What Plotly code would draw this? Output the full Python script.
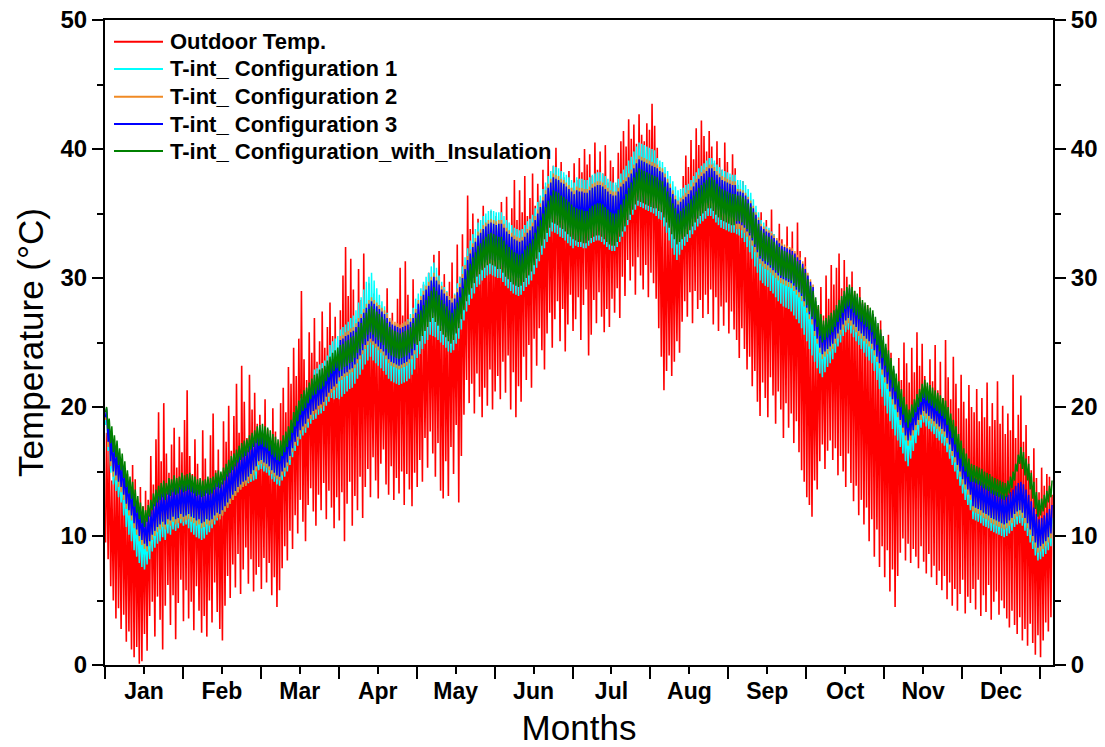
import plotly.graph_objects as go

# ---------------------------------------------------------------------------
# Daily temperature extremes over one year (°C), grouped by month.
# Each day is drawn as a night-time low followed by an afternoon high.
# ---------------------------------------------------------------------------
MONTHS = ["Jan", "Feb", "Mar", "Apr", "May", "Jun",
          "Jul", "Aug", "Sep", "Oct", "Nov", "Dec"]

outdoor_max = [
    [18.0, 17.2, 14.3, 15.8, 16.9, 14.6, 15.9, 13.2, 14.8, 12.4, 15.5, 14.4, 11.6, 13.8, 12.3, 13.5, 12.8, 16.2, 14.0, 17.5, 19.6, 15.8, 20.3, 16.4, 14.9, 17.1, 18.4, 15.3, 17.7, 16.5, 19.0],
    [21.3, 16.2, 14.8, 17.5, 15.6, 13.9, 18.2, 16.0, 14.4, 17.8, 19.5, 15.1, 16.7, 14.2, 18.9, 17.3, 20.1, 16.6, 19.3, 21.8, 18.0, 23.2, 20.4, 17.6, 22.5, 19.8, 21.1, 18.7],
    [19.4, 17.8, 20.6, 18.3, 16.9, 19.9, 18.1, 17.2, 20.3, 21.5, 19.6, 23.1, 21.8, 24.6, 22.4, 25.3, 29.0, 23.7, 22.1, 25.8, 24.2, 26.9, 23.5, 25.1, 27.4, 24.6, 26.2, 28.1, 25.5, 27.0, 24.3],
    [27.5, 30.2, 32.4, 28.6, 31.5, 29.1, 26.8, 30.7, 28.3, 31.9, 27.4, 29.6, 26.1, 28.8, 25.4, 27.9, 24.6, 26.7, 29.2, 25.8, 27.3, 24.9, 28.4, 30.8, 27.1, 31.3, 28.7, 26.4, 29.9, 27.6],
    [28.1, 26.3, 29.5, 27.2, 30.4, 28.6, 31.8, 29.0, 32.1, 27.5, 30.3, 26.9, 29.7, 31.2, 28.4, 32.6, 30.1, 33.4, 31.0, 36.4, 33.8, 35.0, 32.7, 34.6, 33.1, 35.6, 34.2, 32.9, 35.2, 33.6, 34.8],
    [33.7, 35.9, 34.1, 36.3, 33.2, 35.4, 37.6, 34.5, 36.8, 35.1, 37.9, 34.8, 36.2, 38.1, 35.6, 37.3, 36.0, 38.4, 37.1, 39.2, 36.9, 38.7, 40.1, 37.5, 39.0, 37.8, 36.4, 38.3, 37.0, 38.9],
    [37.6, 39.3, 38.2, 40.0, 38.8, 39.6, 37.9, 40.5, 38.4, 39.8, 38.1, 40.3, 37.4, 39.1, 38.6, 37.2, 39.7, 40.6, 41.4, 40.2, 42.3, 40.8, 41.9, 40.4, 42.7, 41.1, 40.6, 42.0, 41.5, 43.5, 41.8],
    [40.1, 38.2, 36.5, 35.2, 36.1, 35.0, 36.6, 35.4, 34.8, 36.3, 37.9, 39.5, 38.6, 40.7, 39.2, 41.6, 40.3, 42.2, 41.0, 39.8, 41.4, 40.2, 38.9, 40.6, 39.3, 38.4, 40.5, 39.0, 37.8, 39.6, 38.5],
    [37.2, 36.0, 37.5, 35.8, 34.6, 35.3, 33.8, 34.9, 33.2, 35.1, 33.9, 34.5, 32.8, 35.3, 33.4, 32.6, 34.2, 33.0, 31.9, 34.0, 32.3, 33.6, 31.5, 34.3, 32.1, 30.4, 31.6, 28.9, 27.5, 26.6],
    [25.4, 27.8, 29.3, 27.1, 30.2, 28.4, 31.0, 29.5, 30.8, 31.9, 29.2, 31.4, 30.1, 28.7, 30.5, 29.0, 27.6, 29.3, 28.1, 26.4, 27.9, 25.8, 27.2, 26.0, 24.5, 26.7, 25.1, 23.9, 25.6, 24.2, 22.8],
    [21.5, 23.8, 22.1, 25.0, 23.4, 21.9, 24.6, 22.7, 25.8, 23.2, 24.9, 22.4, 21.6, 23.7, 22.0, 24.8, 21.3, 23.5, 20.7, 25.2, 22.3, 20.6, 23.9, 21.8, 19.9, 22.5, 20.4, 19.1, 21.7, 20.0],
    [19.6, 21.4, 18.9, 20.7, 19.2, 21.9, 18.5, 20.3, 19.0, 22.0, 18.7, 20.1, 17.9, 19.5, 18.2, 22.5, 17.6, 19.4, 20.9, 17.3, 18.6, 16.2, 15.1, 16.8, 14.5, 13.4, 15.3, 13.9, 14.8, 14.6, 13.2],
]
outdoor_min = [
    [9.5, 8.2, 6.1, 5.0, 3.6, 4.4, 2.8, 3.9, 1.8, 2.6, 1.2, 0.6, 1.4, 0.1, 0.3, 2.4, 1.1, 3.8, 4.9, 2.2, 5.3, 3.5, 1.2, 4.6, 6.2, 3.1, 5.4, 2.0, 4.8, 6.6, 3.4],
    [5.8, 3.6, 4.9, 2.7, 6.1, 4.2, 2.5, 3.8, 2.2, 5.0, 3.3, 6.4, 4.1, 2.8, 1.9, 4.6, 6.9, 5.2, 7.8, 6.0, 8.6, 5.5, 7.4, 9.1, 6.3, 8.2, 5.7, 7.0],
    [7.6, 5.9, 8.3, 6.4, 7.9, 5.4, 6.8, 4.5, 5.8, 7.5, 9.2, 8.1, 10.4, 9.0, 11.6, 10.2, 12.8, 11.1, 9.6, 12.4, 13.7, 11.9, 10.8, 13.2, 12.0, 14.1, 11.3, 13.5, 12.2, 10.6, 13.0],
    [11.2, 13.4, 9.6, 12.5, 14.2, 10.8, 13.1, 12.0, 14.6, 11.4, 13.8, 15.2, 13.0, 16.1, 14.3, 12.9, 15.6, 16.7, 14.0, 13.2, 15.4, 12.8, 14.5, 13.3, 15.0, 12.4, 14.8, 13.6, 12.3, 14.9],
    [13.8, 15.9, 14.2, 17.6, 15.3, 18.1, 16.4, 14.6, 17.2, 13.5, 12.9, 15.8, 13.1, 16.9, 14.8, 18.6, 12.6, 16.2, 19.4, 22.1, 20.3, 21.8, 19.5, 22.6, 20.8, 19.2, 21.5, 20.1, 22.9, 19.8, 21.2],
    [22.4, 20.6, 23.5, 21.1, 24.0, 19.8, 22.7, 19.2, 21.6, 20.4, 23.9, 22.1, 24.8, 21.5, 25.3, 23.2, 26.1, 24.4, 22.9, 25.7, 27.3, 24.6, 26.8, 28.2, 25.1, 27.6, 24.3, 26.4, 28.7, 25.9],
    [26.8, 28.5, 25.2, 27.9, 29.1, 24.0, 25.6, 28.3, 26.5, 28.9, 27.0, 25.8, 27.6, 26.2, 28.4, 27.3, 29.2, 26.9, 30.1, 28.6, 31.4, 29.8, 30.9, 28.7, 31.6, 30.2, 29.1, 31.0, 28.5, 30.4, 29.6],
    [28.4, 26.1, 23.9, 21.3, 22.8, 24.0, 22.4, 23.5, 25.1, 24.2, 26.6, 28.2, 27.0, 28.9, 26.5, 29.0, 27.6, 28.3, 26.9, 28.7, 27.2, 29.1, 26.4, 28.5, 25.9, 27.8, 26.3, 28.1, 25.7, 27.4, 26.0],
    [25.2, 23.8, 26.1, 24.5, 22.9, 23.9, 21.6, 22.8, 20.4, 19.3, 21.9, 20.7, 19.2, 22.3, 20.9, 18.7, 21.2, 19.8, 17.6, 20.3, 18.4, 19.5, 17.2, 18.9, 16.5, 15.1, 14.2, 13.0, 12.4, 11.5],
    [14.3, 13.6, 15.8, 17.1, 15.2, 16.6, 17.4, 15.9, 16.8, 14.7, 16.2, 15.0, 13.8, 16.4, 14.1, 12.7, 13.9, 11.6, 12.8, 10.9, 12.2, 9.6, 11.3, 8.4, 10.5, 7.6, 9.2, 6.8, 8.9, 5.7, 7.4],
    [4.5, 6.9, 8.7, 9.8, 8.1, 9.4, 7.9, 9.0, 8.4, 7.5, 9.2, 8.0, 7.1, 8.6, 6.8, 7.7, 6.2, 7.3, 5.8, 6.9, 5.1, 6.4, 4.6, 5.9, 4.2, 5.5, 6.6, 4.0, 5.3, 4.8],
    [5.9, 4.3, 6.6, 3.8, 5.4, 4.1, 6.2, 3.5, 4.9, 5.7, 3.9, 5.0, 4.4, 3.6, 2.9, 4.2, 3.1, 2.4, 3.7, 1.9, 2.8, 1.5, 3.2, 1.7, 0.8, 2.3, 0.6, 1.9, 3.3, 2.6, 3.7],
]

# Configuration 1
config1_max = [
    [19.6, 17.9, 16.5, 15.8, 15.4, 14.8, 14.4, 13.8, 13.1, 12.6, 12.2, 11.6, 11.1, 10.6, 10.3, 10.0, 10.4, 10.8, 11.3, 11.6, 11.9, 12.1, 12.3, 12.1, 12.5, 12.4, 12.7, 12.5, 12.6, 12.9, 12.7],
    [12.8, 12.9, 12.7, 12.6, 12.4, 12.5, 12.3, 12.4, 12.6, 12.5, 12.6, 12.9, 13.1, 13.0, 13.3, 13.6, 13.9, 14.2, 14.4, 14.7, 15.0, 15.2, 15.4, 15.5, 15.8, 16.0, 16.2, 16.5],
    [17.1, 17.2, 17.0, 16.9, 16.7, 16.4, 16.2, 16.6, 16.5, 16.9, 17.2, 17.6, 18.1, 18.7, 19.8, 20.2, 20.7, 21.0, 21.2, 21.6, 21.9, 22.9, 23.0, 23.3, 23.4, 23.6, 24.0, 24.8, 25.1, 25.3, 25.5],
    [26.0, 26.2, 26.4, 26.6, 26.9, 27.1, 27.5, 28.1, 28.5, 29.1, 29.7, 30.1, 30.4, 29.8, 29.2, 28.7, 28.2, 27.8, 27.3, 26.9, 26.5, 26.4, 26.3, 26.2, 26.4, 26.6, 26.8, 27.2, 27.7, 28.4],
    [28.8, 29.2, 29.7, 30.1, 30.4, 30.9, 31.2, 30.8, 30.2, 29.7, 29.3, 29.0, 28.6, 28.4, 28.8, 29.6, 30.1, 30.9, 31.6, 32.3, 32.9, 33.4, 33.8, 34.3, 34.5, 34.8, 35.0, 35.2, 35.3, 35.2, 35.1],
    [35.1, 35.1, 34.8, 34.5, 34.3, 34.1, 33.9, 33.8, 33.7, 33.8, 34.1, 34.4, 34.6, 34.9, 35.4, 35.9, 36.4, 36.9, 37.4, 37.9, 38.3, 38.7, 38.6, 38.5, 38.3, 38.2, 38.0, 37.8, 37.6, 37.4],
    [37.8, 37.7, 37.7, 37.6, 37.6, 37.8, 38.0, 38.1, 38.2, 38.2, 38.1, 37.9, 37.7, 37.5, 37.4, 37.4, 37.7, 38.1, 38.4, 38.7, 39.1, 39.4, 39.8, 40.2, 40.5, 40.4, 40.3, 40.2, 40.1, 40.0, 39.9],
    [39.3, 39.1, 39.0, 38.6, 38.3, 37.9, 37.5, 37.1, 36.8, 36.9, 37.0, 37.2, 37.3, 37.6, 37.9, 38.2, 38.5, 38.7, 38.9, 39.1, 39.3, 39.3, 39.1, 38.8, 38.6, 38.4, 38.3, 38.2, 38.1, 38.0, 38.0],
    [37.6, 37.6, 37.5, 37.2, 36.9, 36.6, 36.1, 35.6, 35.1, 34.5, 34.3, 34.0, 33.9, 33.6, 33.4, 33.1, 32.8, 32.6, 32.4, 32.2, 32.0, 31.8, 31.6, 31.3, 31.1, 30.8, 30.4, 29.9, 29.4, 29.0],
    [27.5, 26.9, 26.2, 25.7, 25.9, 26.1, 26.3, 26.5, 26.9, 27.3, 27.6, 28.0, 28.3, 28.5, 28.3, 28.0, 27.8, 27.5, 27.3, 27.1, 26.9, 26.7, 26.5, 26.0, 25.5, 25.0, 24.5, 23.9, 23.4, 22.8, 22.2],
    [21.0, 20.4, 19.8, 19.2, 18.6, 18.2, 18.6, 19.0, 19.4, 19.8, 20.2, 20.5, 20.3, 20.1, 19.9, 19.7, 19.5, 19.3, 19.1, 18.9, 18.4, 17.9, 17.4, 16.9, 16.3, 15.8, 15.2, 14.8, 14.4, 14.0],
    [13.5, 13.4, 13.3, 13.2, 13.0, 12.9, 12.8, 12.6, 12.5, 12.4, 12.3, 12.2, 12.1, 12.2, 12.4, 12.6, 12.9, 13.1, 13.2, 13.0, 12.6, 12.2, 11.7, 11.2, 10.7, 10.3, 10.4, 10.6, 10.8, 11.1, 11.4],
]
config1_min = [
    [18.6, 16.6, 14.9, 14.0, 13.5, 13.0, 12.6, 11.6, 10.7, 10.1, 9.6, 8.9, 8.4, 7.9, 7.6, 7.4, 7.8, 8.2, 8.8, 9.1, 9.4, 9.6, 9.9, 9.7, 10.2, 10.1, 10.5, 10.4, 10.6, 11.0, 10.8],
    [10.9, 10.6, 10.3, 10.1, 9.9, 9.8, 9.7, 9.8, 10.1, 10.3, 10.6, 10.9, 11.2, 11.3, 11.6, 11.9, 12.2, 12.5, 12.8, 13.1, 13.4, 13.6, 13.8, 13.9, 14.1, 14.2, 14.3, 14.4],
    [15.1, 15.2, 15.0, 14.9, 14.7, 14.4, 14.2, 14.0, 13.9, 14.3, 14.6, 15.0, 15.5, 16.1, 16.6, 17.0, 17.5, 17.8, 18.0, 18.4, 18.7, 19.0, 19.1, 19.4, 19.5, 19.7, 20.1, 20.4, 20.7, 20.6, 20.7],
    [20.6, 20.8, 21.0, 21.2, 21.4, 21.5, 21.8, 22.2, 22.5, 22.9, 23.3, 23.6, 23.9, 23.6, 23.4, 23.2, 23.0, 22.8, 22.5, 22.2, 22.0, 21.9, 21.8, 21.7, 21.8, 21.9, 22.0, 22.2, 22.5, 22.9],
    [23.8, 24.1, 24.5, 24.9, 25.2, 25.6, 25.5, 25.4, 25.2, 25.0, 24.8, 24.6, 24.3, 24.2, 24.4, 24.9, 25.3, 26.0, 26.7, 27.4, 27.9, 28.4, 28.8, 29.3, 29.5, 29.8, 30.0, 30.2, 30.3, 30.2, 30.1],
    [30.0, 30.0, 29.7, 29.4, 29.2, 29.0, 28.8, 28.7, 28.6, 28.7, 29.0, 29.3, 29.5, 29.8, 30.3, 30.8, 31.3, 31.8, 32.3, 32.8, 33.2, 33.6, 33.5, 33.4, 33.2, 33.1, 32.9, 32.7, 32.5, 32.3],
    [32.5, 32.4, 32.4, 32.3, 32.3, 32.5, 32.7, 32.8, 32.9, 32.9, 32.8, 32.6, 32.4, 32.2, 32.1, 32.1, 32.4, 32.8, 33.2, 33.6, 34.1, 34.5, 34.9, 35.3, 35.6, 35.5, 35.4, 35.3, 35.2, 35.1, 35.0],
    [34.8, 34.6, 34.5, 34.0, 33.5, 32.9, 32.3, 31.8, 31.4, 31.8, 32.2, 32.5, 32.8, 33.1, 33.4, 33.7, 34.0, 34.2, 34.4, 34.6, 34.8, 34.8, 34.6, 34.3, 34.1, 33.9, 33.8, 33.7, 33.6, 33.5, 33.5],
    [33.4, 33.3, 33.1, 32.8, 32.4, 32.0, 31.5, 30.9, 30.4, 29.8, 29.6, 29.4, 29.3, 29.0, 28.8, 28.5, 28.2, 28.0, 27.8, 27.7, 27.6, 27.4, 27.1, 26.8, 26.5, 26.1, 25.6, 25.1, 24.5, 24.0],
    [23.5, 23.0, 22.6, 22.3, 22.7, 23.1, 23.4, 23.7, 24.2, 24.7, 25.0, 25.5, 25.8, 26.0, 25.7, 25.4, 25.1, 24.8, 24.5, 24.2, 23.9, 23.6, 23.4, 22.8, 22.1, 21.4, 20.8, 20.1, 19.5, 18.9, 18.3],
    [17.8, 17.4, 16.9, 16.4, 15.8, 15.4, 16.0, 16.6, 17.2, 17.8, 18.4, 18.8, 18.5, 18.3, 18.1, 17.9, 17.6, 17.4, 17.2, 17.0, 16.5, 16.0, 15.5, 15.0, 14.4, 13.9, 13.3, 12.8, 12.4, 12.0],
    [11.3, 11.2, 11.1, 11.0, 10.8, 10.7, 10.6, 10.4, 10.3, 10.2, 10.1, 10.0, 9.9, 10.0, 10.2, 10.4, 10.7, 10.9, 11.0, 10.8, 10.4, 10.0, 9.5, 9.0, 8.5, 8.1, 8.2, 8.4, 8.6, 8.9, 9.2],
]

# Configuration 2
config2_max = [
    [19.8, 18.3, 17.4, 16.7, 16.3, 15.7, 15.3, 14.7, 14.0, 13.5, 13.1, 12.5, 12.0, 11.5, 11.2, 10.9, 11.3, 11.7, 12.2, 12.5, 12.8, 13.0, 13.2, 13.0, 13.4, 13.3, 13.6, 13.4, 13.5, 13.8, 13.6],
    [13.7, 13.8, 13.6, 13.5, 13.3, 13.4, 13.2, 13.3, 13.5, 13.4, 13.5, 13.8, 14.0, 13.9, 14.2, 14.5, 14.8, 15.1, 15.3, 15.6, 15.9, 16.1, 16.3, 16.4, 16.7, 16.9, 17.1, 17.4],
    [17.9, 18.0, 17.8, 17.7, 17.5, 17.2, 17.0, 16.8, 16.7, 17.1, 17.4, 17.8, 18.3, 18.9, 19.4, 19.8, 20.3, 20.6, 20.8, 21.2, 21.5, 21.8, 21.9, 22.2, 22.3, 22.5, 22.9, 23.2, 23.5, 23.7, 23.9],
    [25.5, 25.6, 25.8, 25.9, 26.1, 26.2, 26.5, 26.9, 27.2, 27.6, 28.0, 28.3, 28.5, 28.3, 28.1, 27.9, 27.7, 27.5, 27.2, 26.9, 26.7, 26.6, 26.5, 26.4, 26.5, 26.6, 26.7, 26.9, 27.2, 27.6],
    [28.3, 28.6, 29.0, 29.4, 29.7, 30.1, 30.4, 30.1, 29.8, 29.4, 29.1, 28.9, 28.6, 28.4, 28.7, 29.2, 29.6, 30.3, 31.0, 31.7, 32.2, 32.7, 33.1, 33.6, 33.8, 34.1, 34.3, 34.5, 34.6, 34.5, 34.4],
    [34.5, 34.5, 34.2, 33.9, 33.7, 33.5, 33.3, 33.2, 33.1, 33.2, 33.5, 33.8, 34.0, 34.3, 34.8, 35.3, 35.8, 36.3, 36.8, 37.3, 37.7, 38.1, 38.0, 37.9, 37.7, 37.6, 37.4, 37.2, 37.0, 36.8],
    [37.1, 37.0, 37.0, 36.9, 36.9, 37.1, 37.3, 37.4, 37.5, 37.5, 37.4, 37.2, 37.0, 36.8, 36.7, 36.7, 37.0, 37.4, 37.6, 37.8, 38.1, 38.4, 38.8, 39.2, 39.5, 39.4, 39.3, 39.2, 39.1, 39.0, 38.9],
    [38.8, 38.6, 38.5, 38.1, 37.7, 37.3, 36.8, 36.4, 36.0, 36.2, 36.4, 36.6, 36.8, 37.1, 37.4, 37.7, 38.0, 38.2, 38.4, 38.6, 38.8, 38.8, 38.6, 38.3, 38.1, 37.9, 37.8, 37.7, 37.6, 37.5, 37.5],
    [36.9, 36.9, 36.8, 36.6, 36.3, 36.0, 35.6, 35.1, 34.7, 34.2, 34.0, 33.8, 33.7, 33.5, 33.3, 33.1, 32.9, 32.7, 32.6, 32.5, 32.4, 32.3, 32.1, 31.8, 31.6, 31.3, 30.9, 30.4, 29.9, 29.5],
    [27.9, 27.3, 26.6, 26.1, 26.3, 26.5, 26.7, 26.9, 27.3, 27.7, 28.0, 28.4, 28.7, 28.9, 28.7, 28.4, 28.2, 27.9, 27.7, 27.5, 27.3, 27.1, 26.9, 26.4, 25.9, 25.4, 24.9, 24.3, 23.8, 23.2, 22.6],
    [21.6, 21.0, 20.4, 19.8, 19.2, 18.8, 19.2, 19.6, 20.0, 20.4, 20.8, 21.1, 20.9, 20.7, 20.5, 20.3, 20.1, 19.9, 19.7, 19.5, 19.0, 18.5, 18.0, 17.5, 16.9, 16.4, 15.8, 15.4, 15.0, 14.6],
    [14.2, 14.1, 14.0, 13.9, 13.7, 13.6, 13.5, 13.3, 13.2, 13.1, 13.0, 12.9, 12.8, 12.9, 13.1, 13.3, 13.6, 13.8, 13.9, 13.7, 13.3, 12.9, 12.4, 11.9, 11.4, 11.0, 11.1, 11.3, 11.5, 11.8, 12.1],
]
config2_min = [
    [19.0, 16.9, 15.4, 14.6, 14.3, 13.8, 13.4, 12.8, 12.1, 11.6, 11.2, 10.6, 10.1, 9.6, 9.3, 9.0, 8.8, 9.2, 9.7, 10.0, 10.3, 10.5, 10.7, 10.5, 10.9, 10.8, 11.1, 10.9, 11.0, 11.3, 11.1],
    [11.2, 11.3, 11.1, 11.0, 10.8, 10.9, 10.6, 10.7, 10.9, 10.8, 10.9, 11.2, 11.4, 11.3, 11.6, 11.9, 12.2, 12.5, 12.8, 13.1, 13.4, 13.6, 13.8, 13.9, 14.2, 14.4, 14.7, 15.0],
    [15.5, 15.6, 15.4, 15.3, 15.1, 14.8, 14.6, 14.4, 14.3, 14.7, 15.0, 15.4, 15.9, 16.5, 17.0, 17.4, 17.9, 18.2, 18.4, 18.8, 19.1, 19.4, 19.5, 19.8, 19.9, 20.1, 20.5, 20.8, 21.1, 21.3, 21.5],
    [22.0, 22.1, 22.3, 22.4, 22.6, 22.7, 23.0, 23.4, 23.7, 24.1, 24.5, 24.8, 25.0, 24.8, 24.6, 24.4, 24.2, 24.0, 23.7, 23.4, 23.2, 23.1, 23.0, 22.9, 23.0, 23.1, 23.2, 23.4, 23.7, 24.1],
    [24.9, 25.2, 25.6, 26.0, 26.3, 26.7, 27.0, 26.7, 26.4, 26.0, 25.7, 25.5, 25.2, 25.0, 25.3, 25.8, 26.2, 26.9, 27.6, 28.3, 28.8, 29.3, 29.7, 30.2, 30.4, 30.7, 30.9, 31.1, 31.2, 31.1, 31.0],
    [31.0, 31.0, 30.7, 30.4, 30.2, 30.0, 29.8, 29.7, 29.6, 29.7, 30.0, 30.3, 30.5, 30.8, 31.3, 31.8, 32.3, 32.8, 33.3, 33.8, 34.2, 34.6, 34.5, 34.4, 34.2, 34.1, 33.9, 33.7, 33.5, 33.3],
    [33.4, 33.3, 33.3, 33.2, 33.2, 33.4, 33.6, 33.7, 33.8, 33.8, 33.7, 33.5, 33.3, 33.1, 33.0, 33.0, 33.3, 33.7, 34.1, 34.5, 35.0, 35.4, 35.8, 36.2, 36.5, 36.4, 36.3, 36.2, 36.1, 36.0, 35.9],
    [35.6, 35.4, 35.3, 34.9, 34.5, 34.1, 33.6, 33.2, 32.8, 33.0, 33.2, 33.4, 33.6, 33.9, 34.2, 34.5, 34.8, 35.0, 35.2, 35.4, 35.6, 35.6, 35.4, 35.1, 34.9, 34.7, 34.6, 34.5, 34.4, 34.3, 34.3],
    [33.8, 33.8, 33.7, 33.5, 33.2, 32.9, 32.5, 32.0, 31.6, 31.1, 30.9, 30.7, 30.6, 30.4, 30.2, 30.0, 29.8, 29.6, 29.5, 29.4, 29.3, 29.2, 29.0, 28.7, 28.5, 28.2, 27.8, 27.3, 26.8, 26.4],
    [25.5, 24.9, 24.2, 23.7, 23.9, 24.1, 24.3, 24.5, 24.9, 25.3, 25.6, 26.0, 26.3, 26.5, 26.3, 26.0, 25.8, 25.5, 25.3, 25.1, 24.9, 24.7, 24.5, 24.0, 23.5, 23.0, 22.5, 21.9, 21.4, 20.8, 20.2],
    [19.8, 19.2, 18.6, 18.0, 17.4, 17.0, 17.4, 17.8, 18.2, 18.6, 19.0, 19.3, 19.1, 18.9, 18.7, 18.5, 18.3, 18.1, 17.9, 17.7, 17.2, 16.7, 16.2, 15.7, 15.1, 14.6, 14.0, 13.6, 13.2, 12.8],
    [11.9, 11.8, 11.7, 11.6, 11.4, 11.3, 11.2, 11.0, 10.9, 10.8, 10.7, 10.6, 10.5, 10.6, 10.8, 11.0, 11.3, 11.5, 11.6, 11.4, 11.0, 10.6, 10.1, 9.6, 9.1, 8.7, 8.8, 9.0, 9.2, 9.5, 9.8],
]

# Configuration 3
config3_max = [
    [19.9, 18.6, 17.7, 17.0, 16.6, 16.0, 15.6, 15.0, 14.3, 13.8, 13.4, 12.8, 12.3, 11.8, 11.5, 11.2, 11.6, 12.0, 12.5, 12.8, 13.1, 13.3, 13.5, 13.3, 13.7, 13.6, 13.9, 13.7, 13.8, 14.1, 13.9],
    [14.0, 14.1, 13.9, 13.8, 13.6, 13.7, 13.5, 13.6, 13.8, 13.7, 13.8, 14.1, 14.3, 14.2, 14.5, 14.8, 15.1, 15.4, 15.6, 15.9, 16.2, 16.4, 16.6, 16.7, 17.0, 17.2, 17.4, 17.7],
    [18.1, 18.2, 18.0, 17.9, 17.7, 17.4, 17.2, 17.0, 16.9, 17.3, 17.6, 18.0, 18.5, 19.1, 19.6, 20.0, 20.5, 20.8, 21.0, 21.4, 21.7, 22.0, 22.1, 22.4, 22.5, 22.7, 23.1, 23.4, 23.7, 23.9, 24.1],
    [25.2, 25.3, 25.5, 25.6, 25.8, 25.9, 26.2, 26.6, 26.9, 27.3, 27.7, 28.0, 28.2, 28.0, 27.8, 27.6, 27.4, 27.2, 26.9, 26.6, 26.4, 26.3, 26.2, 26.1, 26.2, 26.3, 26.4, 26.6, 26.9, 27.3],
    [28.0, 28.3, 28.7, 29.1, 29.4, 29.8, 30.1, 29.8, 29.5, 29.1, 28.8, 28.6, 28.3, 28.1, 28.4, 28.9, 29.3, 30.0, 30.7, 31.4, 31.9, 32.4, 32.8, 33.3, 33.5, 33.8, 34.0, 34.2, 34.3, 34.2, 34.1],
    [34.2, 34.2, 33.9, 33.6, 33.4, 33.2, 33.0, 32.9, 32.8, 32.9, 33.2, 33.5, 33.7, 34.0, 34.5, 35.0, 35.5, 36.0, 36.5, 37.0, 37.4, 37.8, 37.7, 37.6, 37.4, 37.3, 37.1, 36.9, 36.7, 36.5],
    [36.8, 36.7, 36.7, 36.6, 36.6, 36.8, 37.0, 37.1, 37.2, 37.2, 37.1, 36.9, 36.7, 36.5, 36.4, 36.4, 36.7, 37.1, 37.3, 37.5, 37.8, 38.1, 38.5, 38.9, 39.2, 39.1, 39.0, 38.9, 38.8, 38.7, 38.6],
    [38.5, 38.3, 38.2, 37.8, 37.4, 37.0, 36.5, 36.1, 35.7, 35.9, 36.1, 36.3, 36.5, 36.8, 37.1, 37.4, 37.7, 37.9, 38.1, 38.3, 38.5, 38.5, 38.3, 38.0, 37.8, 37.6, 37.5, 37.4, 37.3, 37.2, 37.2],
    [36.7, 36.7, 36.6, 36.4, 36.1, 35.8, 35.4, 34.9, 34.5, 34.0, 33.8, 33.6, 33.5, 33.3, 33.1, 32.9, 32.7, 32.5, 32.4, 32.3, 32.2, 32.1, 31.9, 31.6, 31.4, 31.1, 30.7, 30.2, 29.7, 29.3],
    [28.2, 27.6, 26.9, 26.4, 26.6, 26.8, 27.0, 27.2, 27.6, 28.0, 28.3, 28.7, 29.0, 29.2, 29.0, 28.7, 28.5, 28.2, 28.0, 27.8, 27.6, 27.4, 27.2, 26.7, 26.2, 25.7, 25.2, 24.6, 24.1, 23.5, 22.9],
    [21.9, 21.3, 20.7, 20.1, 19.5, 19.1, 19.5, 19.9, 20.3, 20.7, 21.1, 21.4, 21.2, 21.0, 20.8, 20.6, 20.4, 20.2, 20.0, 19.8, 19.3, 18.8, 18.3, 17.8, 17.2, 16.7, 16.1, 15.7, 15.3, 14.9],
    [14.5, 14.4, 14.3, 14.2, 14.0, 13.9, 13.8, 13.6, 13.5, 13.4, 13.3, 13.2, 13.1, 13.2, 13.4, 13.6, 13.9, 14.1, 14.2, 14.0, 13.6, 13.2, 12.7, 12.2, 11.7, 11.3, 11.4, 11.6, 11.8, 12.1, 12.4],
]
config3_min = [
    [19.2, 17.3, 15.8, 15.0, 14.7, 14.2, 13.8, 13.2, 12.5, 12.0, 11.6, 11.0, 10.5, 10.0, 9.7, 9.4, 9.2, 9.6, 10.1, 10.4, 10.7, 10.9, 11.1, 10.9, 11.3, 11.2, 11.5, 11.3, 11.4, 11.7, 11.5],
    [11.6, 11.7, 11.5, 11.4, 11.2, 11.3, 11.0, 11.1, 11.3, 11.2, 11.3, 11.6, 11.8, 11.7, 12.0, 12.3, 12.6, 12.9, 13.2, 13.5, 13.8, 14.0, 14.2, 14.3, 14.6, 14.8, 15.1, 15.4],
    [15.8, 15.9, 15.7, 15.6, 15.4, 15.1, 14.9, 14.7, 14.6, 15.0, 15.3, 15.7, 16.2, 16.8, 17.3, 17.7, 18.2, 18.5, 18.7, 19.1, 19.4, 19.7, 19.8, 20.1, 20.2, 20.4, 20.8, 21.1, 21.4, 21.6, 21.8],
    [22.3, 22.4, 22.6, 22.7, 22.9, 23.0, 23.3, 23.7, 24.0, 24.4, 24.8, 25.1, 25.3, 25.1, 24.9, 24.7, 24.5, 24.3, 24.0, 23.7, 23.5, 23.4, 23.3, 23.2, 23.3, 23.4, 23.5, 23.7, 24.0, 24.4],
    [25.2, 25.5, 25.9, 26.3, 26.6, 27.0, 27.3, 27.0, 26.7, 26.3, 26.0, 25.8, 25.5, 25.3, 25.6, 26.1, 26.5, 27.2, 27.9, 28.6, 29.1, 29.6, 30.0, 30.5, 30.7, 31.0, 31.2, 31.4, 31.5, 31.4, 31.3],
    [31.4, 31.4, 31.1, 30.8, 30.6, 30.4, 30.2, 30.1, 30.0, 30.1, 30.4, 30.7, 30.9, 31.2, 31.7, 32.2, 32.7, 33.2, 33.7, 34.2, 34.6, 35.0, 34.9, 34.8, 34.6, 34.5, 34.3, 34.1, 33.9, 33.7],
    [33.8, 33.7, 33.7, 33.6, 33.6, 33.8, 34.0, 34.1, 34.2, 34.2, 34.1, 33.9, 33.7, 33.5, 33.4, 33.4, 33.7, 34.1, 34.5, 34.9, 35.4, 35.8, 36.2, 36.6, 36.9, 36.8, 36.7, 36.6, 36.5, 36.4, 36.3],
    [36.0, 35.8, 35.7, 35.3, 34.9, 34.5, 34.0, 33.6, 33.2, 33.4, 33.6, 33.8, 34.0, 34.3, 34.6, 34.9, 35.2, 35.4, 35.6, 35.8, 36.0, 36.0, 35.8, 35.5, 35.3, 35.1, 35.0, 34.9, 34.8, 34.7, 34.7],
    [34.2, 34.2, 34.1, 33.9, 33.6, 33.3, 32.9, 32.4, 32.0, 31.5, 31.3, 31.1, 31.0, 30.8, 30.6, 30.4, 30.2, 30.0, 29.9, 29.8, 29.7, 29.6, 29.4, 29.1, 28.9, 28.6, 28.2, 27.7, 27.2, 26.8],
    [25.9, 25.3, 24.6, 24.1, 24.3, 24.5, 24.7, 24.9, 25.3, 25.7, 26.0, 26.4, 26.7, 26.9, 26.7, 26.4, 26.2, 25.9, 25.7, 25.5, 25.3, 25.1, 24.9, 24.4, 23.9, 23.4, 22.9, 22.3, 21.8, 21.2, 20.6],
    [20.2, 19.6, 19.0, 18.4, 17.8, 17.4, 17.8, 18.2, 18.6, 19.0, 19.4, 19.7, 19.5, 19.3, 19.1, 18.9, 18.7, 18.5, 18.3, 18.1, 17.6, 17.1, 16.6, 16.1, 15.5, 15.0, 14.4, 14.0, 13.6, 13.2],
    [12.3, 12.2, 12.1, 12.0, 11.8, 11.7, 11.6, 11.4, 11.3, 11.2, 11.1, 11.0, 10.9, 11.0, 11.2, 11.4, 11.7, 11.9, 12.0, 11.8, 11.4, 11.0, 10.5, 10.0, 9.5, 9.1, 9.2, 9.4, 9.6, 9.9, 10.2],
]

# Configuration with insulation
insulated_max = [
    [20.0, 19.1, 18.5, 17.8, 17.4, 16.8, 16.4, 15.8, 15.1, 14.6, 14.2, 13.6, 13.1, 12.6, 12.3, 12.0, 12.4, 12.8, 13.3, 13.6, 13.9, 14.1, 14.3, 14.1, 14.5, 14.4, 14.7, 14.5, 14.6, 14.9, 14.7],
    [14.8, 14.9, 14.7, 14.6, 14.4, 14.5, 14.3, 14.4, 14.6, 14.5, 14.6, 14.9, 15.1, 15.0, 15.3, 15.6, 15.9, 16.2, 16.4, 16.7, 17.0, 17.2, 17.4, 17.5, 17.8, 18.0, 18.2, 18.5],
    [18.6, 18.7, 18.5, 18.4, 18.2, 17.9, 17.7, 17.5, 17.4, 17.8, 18.1, 18.5, 19.0, 19.6, 20.1, 20.5, 21.0, 21.3, 21.5, 21.9, 22.2, 22.5, 22.6, 22.9, 23.0, 23.2, 23.6, 23.9, 24.2, 24.4, 24.6],
    [24.8, 24.9, 25.1, 25.2, 25.4, 25.5, 25.8, 26.2, 26.5, 26.9, 27.3, 27.6, 27.8, 27.6, 27.4, 27.2, 27.0, 26.8, 26.5, 26.2, 26.0, 25.9, 25.8, 25.7, 25.8, 25.9, 26.0, 26.2, 26.5, 26.9],
    [27.2, 27.5, 27.9, 28.3, 28.6, 29.0, 29.3, 29.0, 28.7, 28.3, 28.0, 27.8, 27.5, 27.3, 27.6, 28.1, 28.5, 29.2, 29.9, 30.6, 31.1, 31.6, 32.0, 32.5, 32.7, 33.0, 33.2, 33.4, 33.5, 33.4, 33.3],
    [33.2, 33.2, 32.9, 32.6, 32.4, 32.2, 32.0, 31.9, 31.8, 31.9, 32.2, 32.5, 32.7, 33.0, 33.5, 34.0, 34.5, 35.0, 35.5, 36.0, 36.4, 36.8, 36.7, 36.6, 36.4, 36.3, 36.1, 35.9, 35.7, 35.5],
    [35.4, 35.3, 35.3, 35.2, 35.2, 35.4, 35.6, 35.7, 35.8, 35.8, 35.7, 35.5, 35.3, 35.1, 35.0, 35.0, 35.3, 35.7, 36.1, 36.5, 37.0, 37.4, 37.8, 38.2, 38.5, 38.4, 38.3, 38.2, 38.1, 38.0, 37.9],
    [37.8, 37.6, 37.5, 37.1, 36.7, 36.3, 35.8, 35.4, 35.0, 35.2, 35.4, 35.6, 35.8, 36.1, 36.4, 36.7, 37.0, 37.2, 37.4, 37.6, 37.8, 37.8, 37.6, 37.3, 37.1, 36.9, 36.8, 36.7, 36.6, 36.5, 36.5],
    [36.4, 36.4, 36.3, 36.1, 35.8, 35.5, 35.1, 34.6, 34.2, 33.7, 33.5, 33.3, 33.2, 33.0, 32.8, 32.6, 32.4, 32.2, 32.1, 32.0, 31.9, 31.8, 31.6, 31.3, 31.1, 30.8, 30.4, 29.9, 29.4, 29.0],
    [28.5, 27.9, 27.2, 26.7, 26.9, 27.1, 27.3, 27.5, 27.9, 28.3, 28.6, 29.0, 29.3, 29.5, 29.3, 29.0, 28.8, 28.5, 28.3, 28.1, 27.9, 27.7, 27.5, 27.0, 26.5, 26.0, 25.5, 24.9, 24.4, 23.8, 23.2],
    [22.6, 22.0, 21.4, 20.8, 20.2, 19.8, 20.2, 20.6, 21.0, 21.4, 21.8, 22.1, 21.9, 21.7, 21.5, 21.3, 21.1, 20.9, 20.7, 20.5, 20.0, 19.5, 19.0, 18.5, 17.9, 17.4, 16.8, 16.4, 16.0, 15.6],
    [15.5, 15.4, 15.3, 15.2, 15.0, 14.9, 14.8, 14.6, 14.5, 14.4, 14.3, 14.2, 14.1, 14.3, 14.6, 15.0, 15.6, 16.3, 16.9, 16.5, 16.0, 15.6, 14.9, 14.2, 13.4, 12.8, 12.9, 13.2, 13.5, 13.9, 14.3],
]
insulated_min = [
    [19.6, 18.3, 17.2, 16.5, 16.1, 15.5, 15.1, 14.5, 13.8, 13.3, 12.9, 12.3, 11.8, 11.3, 11.0, 10.7, 11.1, 11.5, 12.0, 12.3, 12.6, 12.8, 13.0, 12.8, 13.2, 13.1, 13.4, 13.2, 13.3, 13.6, 13.4],
    [13.5, 13.6, 13.4, 13.3, 13.1, 13.2, 13.0, 13.1, 13.3, 13.2, 13.3, 13.6, 13.8, 13.7, 14.0, 14.3, 14.6, 14.9, 15.1, 15.4, 15.7, 15.9, 16.1, 16.2, 16.5, 16.7, 16.9, 17.2],
    [17.0, 17.1, 16.9, 16.8, 16.6, 16.3, 16.1, 15.9, 15.8, 16.2, 16.5, 16.9, 17.4, 18.0, 18.5, 18.9, 19.4, 19.7, 19.9, 20.3, 20.6, 20.9, 21.0, 21.3, 21.4, 21.6, 22.0, 22.3, 22.6, 22.8, 23.0],
    [22.8, 22.9, 23.1, 23.2, 23.4, 23.5, 23.8, 24.2, 24.5, 24.9, 25.3, 25.6, 25.8, 25.6, 25.4, 25.2, 25.0, 24.8, 24.5, 24.2, 24.0, 23.9, 23.8, 23.7, 23.8, 23.9, 24.0, 24.2, 24.5, 24.9],
    [24.8, 25.1, 25.5, 25.9, 26.2, 26.6, 26.9, 26.6, 26.3, 25.9, 25.6, 25.4, 25.1, 24.9, 25.2, 25.7, 26.1, 26.8, 27.5, 28.2, 28.7, 29.2, 29.6, 30.1, 30.3, 30.6, 30.8, 31.0, 31.1, 31.0, 30.9],
    [30.7, 30.7, 30.4, 30.1, 29.9, 29.7, 29.5, 29.4, 29.3, 29.4, 29.7, 30.0, 30.2, 30.5, 31.0, 31.5, 32.0, 32.5, 33.0, 33.5, 33.9, 34.3, 34.2, 34.1, 33.9, 33.8, 33.6, 33.4, 33.2, 33.0],
    [32.9, 32.8, 32.8, 32.7, 32.7, 32.9, 33.1, 33.2, 33.3, 33.3, 33.2, 33.0, 32.8, 32.6, 32.5, 32.5, 32.8, 33.2, 33.6, 34.0, 34.5, 34.9, 35.3, 35.7, 36.0, 35.9, 35.8, 35.7, 35.6, 35.5, 35.4],
    [35.4, 35.2, 35.1, 34.7, 34.3, 33.9, 33.4, 33.0, 32.6, 32.8, 33.0, 33.2, 33.4, 33.7, 34.0, 34.3, 34.6, 34.8, 35.0, 35.2, 35.4, 35.4, 35.2, 34.9, 34.7, 34.5, 34.4, 34.3, 34.2, 34.1, 34.1],
    [34.4, 34.4, 34.3, 34.1, 33.8, 33.5, 33.1, 32.6, 32.2, 31.7, 31.5, 31.3, 31.2, 31.0, 30.8, 30.6, 30.4, 30.2, 30.1, 30.0, 29.9, 29.8, 29.6, 29.3, 29.1, 28.8, 28.4, 27.9, 27.4, 27.0],
    [26.8, 26.2, 25.5, 25.0, 25.2, 25.4, 25.6, 25.8, 26.2, 26.6, 26.9, 27.3, 27.6, 27.8, 27.6, 27.3, 27.1, 26.8, 26.6, 26.4, 26.2, 26.0, 25.8, 25.3, 24.8, 24.3, 23.8, 23.2, 22.7, 22.1, 21.5],
    [21.2, 20.6, 20.0, 19.4, 18.8, 18.4, 18.8, 19.2, 19.6, 20.0, 20.4, 20.7, 20.5, 20.3, 20.1, 19.9, 19.7, 19.5, 19.3, 19.1, 18.6, 18.1, 17.6, 17.1, 16.5, 16.0, 15.4, 15.0, 14.6, 14.2],
    [14.2, 14.1, 14.0, 13.9, 13.7, 13.6, 13.5, 13.3, 13.2, 13.1, 13.0, 12.9, 12.8, 13.0, 13.3, 13.7, 14.3, 15.0, 15.6, 15.2, 14.7, 14.3, 13.6, 12.9, 12.1, 11.5, 11.6, 11.9, 12.2, 12.6, 13.0],
]

SERIES = [
    ("Outdoor Temp.", outdoor_min, outdoor_max, "#FF0000", 1.6),
    ("T-int_ Configuration 1", config1_min, config1_max, "#00FFFF", 1.5),
    ("T-int_ Configuration 2", config2_min, config2_max, "#F08A24", 1.5),
    ("T-int_ Configuration 3", config3_min, config3_max, "#0000FF", 1.5),
    ("T-int_ Configuration_with_Insulation", insulated_min, insulated_max, "#008000", 1.5),
]

YEAR_HOURS = 8760
MONTH_STEP = 720          # tick spacing on the time axis, hours
LOW_HOUR, HIGH_HOUR = 5, 15

# plot-area geometry in pixels
W, H = 1105, 747
M_L, M_R, M_T, M_B = 105, 52, 20, 82
PW, PH = W - M_L - M_R, H - M_T - M_B
FONT = "Liberation Sans, Arial, Helvetica, sans-serif"


def flatten(months):
    return [v for month in months for v in month]


def daily_cycle(lows, highs):
    xs, ys = [], []
    for day, (lo, hi) in enumerate(zip(lows, highs)):
        xs += [day * 24 + LOW_HOUR, day * 24 + HIGH_HOUR]
        ys += [lo, hi]
    return xs, ys


fig = go.Figure()
for name, lows, highs, color, width in SERIES:
    x, y = daily_cycle(flatten(lows), flatten(highs))
    fig.add_trace(go.Scatter(x=x, y=y, mode="lines", name=name,
                             line=dict(color=color, width=width),
                             showlegend=False))

# carrier for the right-hand temperature axis
fig.add_trace(go.Scatter(x=[None], y=[None], yaxis="y2", showlegend=False,
                         hoverinfo="skip"))

# legend drawn as line samples + labels in the upper-left corner
legend_rows = [41.7, 69.0, 96.7, 124.0, 151.0]
for (name, _, _, color, _), row in zip(SERIES, legend_rows):
    yp = (H - M_B - row) / PH
    fig.add_shape(type="line", xref="paper", yref="paper",
                  x0=(114 - M_L) / PW, x1=(163 - M_L) / PW, y0=yp, y1=yp,
                  line=dict(color=color, width=2))
    fig.add_annotation(text=name, xref="paper", yref="paper",
                       x=(168 - M_L) / PW, y=yp, xanchor="left",
                       yanchor="middle", showarrow=False,
                       font=dict(family=FONT, size=22, color="black",
                                 weight="bold"))

axis_common = dict(showline=True, linecolor="black", linewidth=2,
                   showgrid=False, zeroline=False, ticks="outside",
                   tickcolor="black", tickwidth=2, automargin=False)

fig.update_layout(
    width=W, height=H, autosize=False,
    margin=dict(l=M_L, r=M_R, t=M_T, b=M_B, pad=0),
    paper_bgcolor="white", plot_bgcolor="white",
    font=dict(family=FONT, color="black"),
    showlegend=False,
    xaxis=dict(
        **axis_common,
        range=[0, YEAR_HOURS], mirror=True,
        tickmode="array",
        tickvals=[MONTH_STEP * i + MONTH_STEP / 2 for i in range(12)],
        ticktext=MONTHS, ticklen=7, ticklabelstandoff=-3,
        tickfont=dict(family=FONT, size=23, weight="bold"),
        minor=dict(tickmode="array",
                   tickvals=[MONTH_STEP * i for i in range(13)],
                   ticks="outside", ticklen=12, tickwidth=2,
                   tickcolor="black", showgrid=False),
        title=dict(text="Months", font=dict(family=FONT, size=35),
                   standoff=15),
    ),
    yaxis=dict(
        **axis_common,
        range=[0, 50], tickmode="linear", tick0=0, dtick=10, ticklen=11,
        tickfont=dict(family=FONT, size=24, weight="bold"),
        minor=dict(tick0=0, dtick=5, ticks="outside", ticklen=6,
                   tickwidth=2, tickcolor="black", showgrid=False),
        title=dict(text="Temperature (°C)", font=dict(family=FONT, size=35),
                   standoff=6),
    ),
    yaxis2=dict(
        **axis_common,
        overlaying="y", side="right",
        range=[0, 50], tickmode="linear", tick0=0, dtick=10, ticklen=11,
        tickfont=dict(family=FONT, size=24, weight="bold"),
        minor=dict(tick0=0, dtick=5, ticks="outside", ticklen=6,
                   tickwidth=2, tickcolor="black", showgrid=False),
    ),
)

fig.write_html("out.html")
